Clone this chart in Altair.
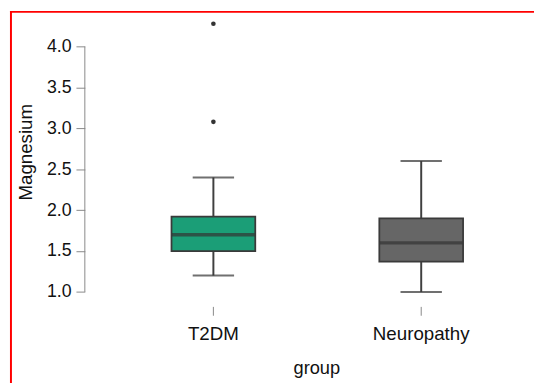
import altair as alt
import pandas as pd

# ---- data ----
groups = ["T2DM", "Neuropathy"]
fill_colors = ["#1b9e77", "#666666"]
lower_whisker = [1.2, 1.0]
q1 = [1.5, 1.37]
median = [1.7, 1.6]
q3 = [1.92, 1.9]
upper_whisker = [2.4, 2.6]
outlier_group = ["T2DM", "T2DM"]
outlier_value = [4.28, 3.08]
y_ticks = [1.0, 1.5, 2.0, 2.5, 3.0, 3.5, 4.0]

box_df = pd.DataFrame({
    "group": groups, "lo": lower_whisker, "q1": q1, "med": median,
    "q3": q3, "hi": upper_whisker,
})
out_df = pd.DataFrame({"group": outlier_group, "value": outlier_value})
axis_df = pd.DataFrame({"lo": [min(y_ticks)], "hi": [max(y_ticks)]})
frame_df = pd.DataFrame({"k": [0]})

FONT = "Liberation Sans"
W, H = 446, 296
DARK = "#333333"
AXIS_GREY = "#888888"

x_scale = alt.Scale(domain=groups, range=[88, 384], paddingInner=0.597, paddingOuter=0)
x_axis = alt.Axis(title="group", domain=False, ticks=True, tickSize=9, tickColor=AXIS_GREY,
                  labelAngle=0, labelFontSize=19, labelPadding=10, labelColor="#111111",
                  titleFontSize=18.5, titleColor="#111111", titleX=235, titleY=68,
                  titleBaseline="alphabetic", titleFontWeight="normal")
y_scale = alt.Scale(domain=[0.823, 4.389], nice=False, zero=False)
y_axis = alt.Axis(title="Magnesium", values=y_ticks, format=".1f", domain=False, grid=False,
                  tickSize=9, tickColor=AXIS_GREY, labelFontSize=18, labelPadding=5,
                  labelColor="#111111", titleFontSize=19, titleColor="#111111",
                  titleX=-60, titleY=139, titleBaseline="middle", titleFontWeight="normal")


def X():
    return alt.X("group:N", scale=x_scale, axis=x_axis, sort=groups)


def Y(field):
    return alt.Y(f"{field}:Q", scale=y_scale, axis=y_axis, title="Magnesium")


whisk_up = alt.Chart(box_df).mark_rule(color="#404040", strokeWidth=2).encode(
    x=X(), y=Y("q3"), y2="hi")
whisk_lo = alt.Chart(box_df).mark_rule(color="#404040", strokeWidth=2).encode(
    x=X(), y=Y("lo"), y2="q1")
cap_hi = alt.Chart(box_df).mark_tick(color="#333333", size=42, thickness=2).encode(
    x=X(), y=Y("hi"))
cap_lo = alt.Chart(box_df).mark_tick(color="#333333", size=42, thickness=2).encode(
    x=X(), y=Y("lo"))
box = alt.Chart(box_df).mark_bar(stroke="#3a3a3a", strokeWidth=1.8).encode(
    x=X(), y=Y("q1"), y2="q3",
    fill=alt.Fill("group:N", scale=alt.Scale(domain=groups, range=fill_colors), legend=None))
med = alt.Chart(box_df).mark_tick(color=DARK, size=84, thickness=3.5).encode(
    x=X(), y=Y("med"))
outl = alt.Chart(out_df).mark_circle(color="#333333", size=22, opacity=1).encode(
    x=X(), y=Y("value"))
yline = alt.Chart(axis_df).mark_rule(color=AXIS_GREY, strokeWidth=1).encode(
    x=alt.value(0), y=Y("lo"), y2="hi")

frame_top = alt.Chart(frame_df).mark_rule(color="#ff0000", strokeWidth=2).encode(
    x=alt.value(-76), x2=alt.value(W + 20), y=alt.value(-3))
frame_left = alt.Chart(frame_df).mark_rule(color="#ff0000", strokeWidth=2).encode(
    x=alt.value(-75), y=alt.value(-4), y2=alt.value(H + 100))

chart = alt.layer(
    yline, whisk_up, whisk_lo, cap_hi, cap_lo, box, med, outl, frame_top, frame_left
).properties(
    width=W, height=H,
    padding={"left": 78, "top": 4, "right": 10, "bottom": 85},
    autosize=alt.AutoSizeParams(type="none"),
    background="white",
).configure_view(strokeWidth=0, stroke="transparent").configure_axis(
    labelFont=FONT, titleFont=FONT
)

chart.save("out.html", embed_options={"renderer": "svg", "actions": False})
